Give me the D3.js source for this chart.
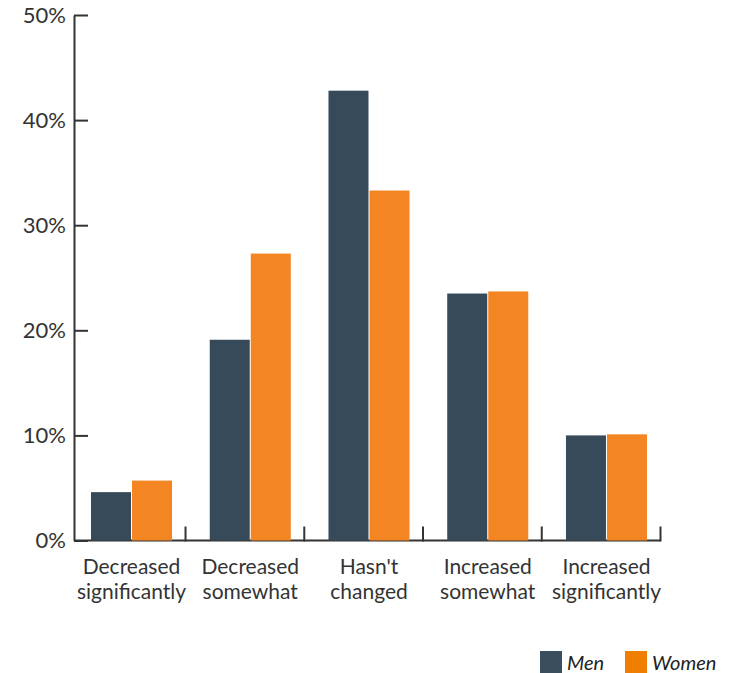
<!DOCTYPE html>
<html>
<head>
<meta charset="utf-8">
<script src="https://cdn.jsdelivr.net/npm/d3@7"></script>
<style>
  html, body { margin: 0; padding: 0; background: #fff; }
  svg { display: block; font-family: Lato, "Open Sans", sans-serif; }
</style>
</head>
<body>
<svg id="chart" width="733" height="673"></svg>
<script>
// Change in share of respondents, by gender
const categories = [
  ["Decreased", "significantly"],
  ["Decreased", "somewhat"],
  ["Hasn't", "changed"],
  ["Increased", "somewhat"],
  ["Increased", "significantly"]
];
const seriesNames = ["Men", "Women"];
const menValues = [4.6, 19.1, 42.8, 23.5, 10.0];
const womenValues = [5.7, 27.3, 33.3, 23.7, 10.1];
const yTicks = [0, 10, 20, 30, 40, 50];

const barColors = { Men: "#374a5a", Women: "#f38522" };
const legendColors = { Men: "#3b4e5d", Women: "#f07e00" };
const ink = "#333333";

const svg = d3.select("#chart");

const axisX = 74;
const baseY = 540.5;

const catKeys = categories.map(c => c.join(" "));
const rows = catKeys.map((k, i) => ({ key: k, Men: menValues[i], Women: womenValues[i] }));

const x = d3.scaleBand()
  .domain(catKeys)
  .range([91, 647])
  .paddingInner(0.3176)
  .paddingOuter(0);

const xs = d3.scaleBand()
  .domain(seriesNames)
  .range([0, x.bandwidth()])
  .paddingInner(0.025);

const y = d3.scaleLinear().domain([0, 50]).range([baseY, 15]);

// x baseline and category separators
const sepX = d => x(d) + x.bandwidth() + 13.5;
const lastTick = sepX(catKeys[catKeys.length - 1]);
const xAxis = svg.append("g");
xAxis.append("line")
  .attr("x1", axisX).attr("x2", lastTick)
  .attr("y1", baseY).attr("y2", baseY)
  .attr("stroke", ink).attr("stroke-width", 2);
xAxis.selectAll("line.sep")
  .data(catKeys)
  .join("line")
  .attr("class", "sep")
  .attr("x1", sepX)
  .attr("x2", sepX)
  .attr("y1", baseY + 1).attr("y2", baseY - 14)
  .attr("stroke", ink).attr("stroke-width", 2);

// bars
const groups = svg.append("g").selectAll("g")
  .data(rows)
  .join("g")
  .attr("transform", d => `translate(${x(d.key)},0)`);

groups.selectAll("rect")
  .data(d => seriesNames.map(s => ({ s, v: d[s] })))
  .join("rect")
  .attr("x", d => xs(d.s))
  .attr("width", xs.bandwidth())
  .attr("y", d => y(d.v))
  .attr("height", d => y(0) - y(d.v))
  .attr("fill", d => barColors[d.s]);

// y axis with inward ticks
const yAxis = svg.append("g")
  .attr("transform", `translate(${axisX},0)`)
  .call(d3.axisLeft(y).tickValues(yTicks).tickFormat(d => d + "%")
    .tickSize(-14).tickSizeOuter(0).tickPadding(8));
yAxis.select(".domain").attr("stroke", ink).attr("stroke-width", 2);
yAxis.selectAll(".tick line").attr("stroke", ink).attr("stroke-width", 2);
yAxis.selectAll(".tick text")
  .attr("fill", ink)
  .style("font-size", "22px")
  .style("font-family", "Lato, sans-serif");

// category labels
const labels = svg.append("g").selectAll("text")
  .data(categories)
  .join("text")
  .attr("x", (d, i) => x(catKeys[i]) + x.bandwidth() / 2)
  .attr("y", 574)
  .attr("text-anchor", "middle")
  .attr("fill", ink)
  .style("font-size", "21px");
labels.selectAll("tspan")
  .data(d => d)
  .join("tspan")
  .attr("x", function () { return d3.select(this.parentNode).attr("x"); })
  .attr("dy", (d, i) => i === 0 ? 0 : 25)
  .text(d => d);

// legend
const legendPos = [{ s: "Men", x: 540 }, { s: "Women", x: 625 }];
const legend = svg.append("g").selectAll("g")
  .data(legendPos)
  .join("g")
  .attr("transform", d => `translate(${d.x},651)`);
legend.append("rect")
  .attr("width", 22).attr("height", 22)
  .attr("fill", d => legendColors[d.s]);
legend.append("text")
  .attr("x", 27).attr("y", 18.5)
  .attr("fill", "#222")
  .style("font-size", "20px")
  .style("font-style", "italic")
  .text(d => d.s);
</script>
</body>
</html>
